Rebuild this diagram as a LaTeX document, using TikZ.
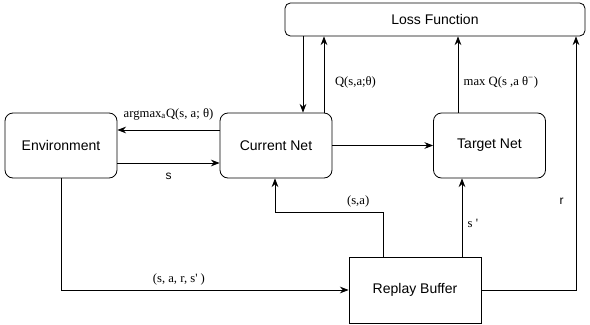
\documentclass[tikz,border=0pt]{standalone}
\usepackage{fontspec}
\setmainfont{Liberation Sans}
\newfontfamily\lblfont{Liberation Serif}
\usetikzlibrary{arrows.meta}

\begin{document}
\begin{tikzpicture}[x=0.75pt, y=-0.75pt, line width=0.6pt, >={Stealth[length=6.5pt,width=5pt]}]
    \tikzset{
        net/.style={draw, rounded corners=6pt, minimum width=84pt, minimum height=48.75pt, font=\fontsize{10.5}{12}\selectfont},
        buffer/.style={draw, minimum width=99pt, minimum height=49.5pt, font=\fontsize{10.5}{12}\selectfont},
        lbl/.style={font=\lblfont\fontsize{9.5}{11}\selectfont, inner sep=1pt},
        slbl/.style={font=\fontsize{9}{11}\selectfont, inner sep=1pt}
    }
    \useasboundingbox (0,0) rectangle (590,325);

    \node[net] (env) at (61,145.5) {Environment};
    \node[net] (cur) at (276,145.5) {Current Net};
    \node[net] (tgt) at (489.5,145.5) {Target Net};
    \node[net, rounded corners=4pt, minimum width=225pt, minimum height=24.75pt] (loss) at (435,19.5) {Loss Function};
    \node[buffer] (buf) at (415,290) {Replay Buffer};

    \draw[->] (cur.west |- 0,130) -- (env.east |- 0,130) node[midway, above=6pt, lbl] {argmax\textsubscript{a}Q(s, a; θ)};
    \draw[->] (env.east |- 0,163) -- (cur.west |- 0,163) node[midway, below=6pt, slbl] {s};
    \draw[->] (loss.south -| 303,0) -- (cur.north -| 303,0);
    \draw[->] (cur.north -| 324,0) -- (loss.south -| 324,0) node[pos=0.4, right=7pt, lbl] {Q(s,a;θ)};
    \draw[->] (cur) -- (tgt);
    \draw[->] (tgt.north -| 458,0) -- (loss.south -| 458,0) node[pos=0.4, right=3pt, lbl] {max Q(s ,a θ\textsuperscript{−})};

    \draw[->] (env.south) -- (env.south |- buf.west) coordinate (k) -- (buf.west) node[pos=0.41, above=2pt, lbl] {(s, a, r, s' )};
    \draw[->] (buf.north -| 383,0) -- (383,212) coordinate (m) -- (275,212) node[pos=0.23, above=2pt, lbl] {(s,a)} -- (cur.south -| 275,0);
    \draw[->] (buf.north -| 462,0) -- (tgt.south -| 462,0) node[pos=0.42, right=3pt, lbl] {s '};
    \draw[->] (buf.east) -- (576,290) coordinate (n) -- (loss.south -| 576,0) node[pos=0.35, left=8pt, slbl] {r};
\end{tikzpicture}
\end{document}
